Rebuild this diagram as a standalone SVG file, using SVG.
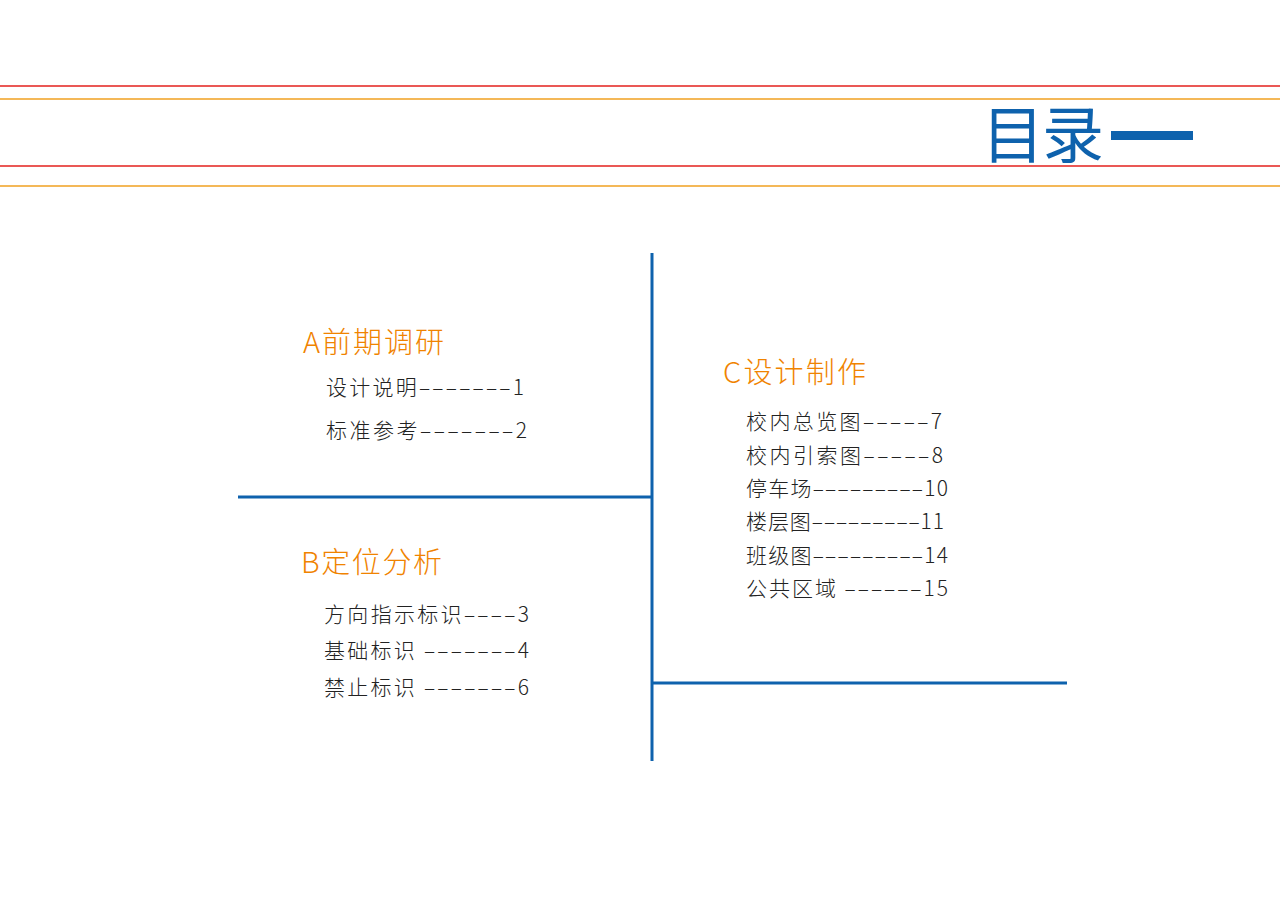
<svg xmlns="http://www.w3.org/2000/svg" width="1280" height="905" viewBox="0 0 1280 905">
<style>
.h{font-family:"Noto Sans CJK SC","Liberation Sans",sans-serif;font-size:29px;font-weight:300;fill:#f08300}
.t{font-family:"Noto Sans CJK SC","Liberation Sans",sans-serif;font-size:21px;font-weight:300;fill:#222}
.b{stroke:#0e62ad;stroke-width:3}
</style>
<rect width="1280" height="905" fill="#fff"/>
<g id="header">
<line x1="0" y1="86" x2="1280" y2="86" stroke="#e3211c" stroke-width="1.5"/>
<line x1="0" y1="99" x2="1280" y2="99" stroke="#f0a020" stroke-width="1.5"/>
<line x1="0" y1="166" x2="1280" y2="166" stroke="#e3211c" stroke-width="1.5"/>
<line x1="0" y1="186" x2="1280" y2="186" stroke="#f0a020" stroke-width="1.5"/>
<text x="982" y="158" font-family="Noto Sans CJK SC,Liberation Sans,sans-serif" font-size="62" fill="#0e62ad" textLength="122">目录</text>
<rect x="1111" y="131" width="82" height="9" fill="#0e62ad"/>
</g>
<g id="connectors">
<line class="b" x1="652" y1="253" x2="652" y2="761"/>
<line class="b" x1="238" y1="497" x2="652" y2="497"/>
<line class="b" x1="652" y1="683" x2="1067" y2="683"/>
</g>
<g id="sectionA">
<text class="h" x="303" y="353" textLength="141">A前期调研</text>
<text class="t" x="326" y="395" textLength="198">设计说明–––––––1</text>
<text class="t" x="326" y="438" textLength="201">标准参考–––––––2</text>
</g>
<g id="sectionB">
<text class="h" x="301" y="573" textLength="141">B定位分析</text>
<text class="t" x="324" y="622" textLength="205">方向指示标识––––3</text>
<text class="t" x="324" y="658" textLength="205">基础标识 –––––––4</text>
<text class="t" x="324" y="695" textLength="205">禁止标识 –––––––6</text>
</g>
<g id="sectionC">
<text class="h" x="723" y="383" textLength="143">C设计制作</text>
<text class="t" x="746" y="429" textLength="196">校内总览图–––––7</text>
<text class="t" x="746" y="463" textLength="197">校内引索图–––––8</text>
<text class="t" x="746" y="496" textLength="202">停车场–––––––––10</text>
<text class="t" x="746" y="529" textLength="198">楼层图–––––––––11</text>
<text class="t" x="746" y="563" textLength="202">班级图–––––––––14</text>
<text class="t" x="746" y="596" textLength="202">公共区域 ––––––15</text>
</g>
</svg>
